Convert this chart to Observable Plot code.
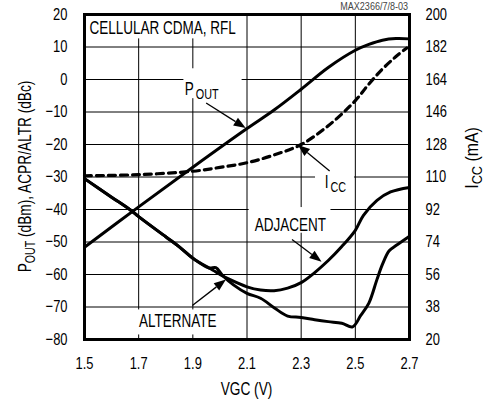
<!DOCTYPE html>
<html><head><meta charset="utf-8">
<script src="https://cdn.jsdelivr.net/npm/d3@7"></script>
<script src="https://cdn.jsdelivr.net/npm/@observablehq/plot@0.6"></script>
<style>
html,body{margin:0;padding:0;background:#fff;}
#chart{width:493px;height:403px;overflow:hidden;}
</style></head><body><div id="chart"></div>
<script>
const FONT = '"Liberation Sans", Arial, sans-serif';
const CONDENSE = 0.76; // Helvetica-Condensed look

// ---- data ----
const xTicks = [1.5, 1.7, 1.9, 2.1, 2.3, 2.5, 2.7];
const yTicks = [-80, -70, -60, -50, -40, -30, -20, -10, 0, 10, 20];
const iccTicks = [20, 38, 56, 74, 92, 110, 128, 146, 164, 182, 200];

const poutX = [1.5, 1.7, 1.9, 2.1, 2.2, 2.3, 2.4, 2.5, 2.55, 2.6, 2.65, 2.7];
const poutY = [-51.6, -39.2, -27, -15.1, -9.4, -3, 3.7, 9.0, 10.8, 12.1, 12.6, 12.5];

const iccX = [1.5, 1.7, 1.9, 2.0, 2.1, 2.2, 2.3, 2.4, 2.5, 2.55, 2.6, 2.65, 2.69];
const iccMA = [110.7, 111.3, 113.2, 115.3, 117.9, 122.2, 128, 138.4, 152.3, 161.5, 169.8, 176.7, 181.5];

const adjX = [1.5, 1.6, 1.672, 1.7, 1.8, 1.85, 1.9, 1.96, 1.985, 2.0, 2.03, 2.1, 2.15, 2.2, 2.25, 2.3, 2.35, 2.4, 2.45, 2.5, 2.53, 2.58, 2.63, 2.7];
const adjY = [-30.5, -36.2, -40.3, -42.2, -48.4, -51.5, -55, -58, -59.2, -60.0, -61.3, -63.8, -64.8, -65, -64.2, -62.5, -59.4, -55.7, -51.4, -46.4, -41.8, -37.2, -34.6, -33.2];

const altX = [1.5, 1.6, 1.672, 1.7, 1.8, 1.85, 1.9, 1.96, 1.985, 2.01, 2.05, 2.1, 2.15, 2.2, 2.25, 2.3, 2.35, 2.4, 2.45, 2.49, 2.52, 2.55, 2.58, 2.6, 2.625, 2.65, 2.7];
const altY = [-30.5, -36.2, -40.3, -42.2, -48.4, -51.5, -55, -58, -57.9, -60.3, -63.2, -65.8, -67.3, -70.2, -72.8, -73.2, -73.9, -74.5, -75.0, -76.1, -72.6, -68.8, -61.5, -56.9, -52.7, -51.1, -48.2];

// annotation layout (data units)
const labelBoxes = [
  {x1: 1.5, x2: 2.09, y1: 12.5, y2: 20},
  {x1: 1.867, x2: 2.082, y1: -5.9, y2: 3.3},
  {x1: 2.353, x2: 2.497, y1: -35.2, y2: -28.4},
  {x1: 2.108, x2: 2.41, y1: -47.3, y2: -39.4},
  {x1: 1.688, x2: 2.002, y1: -78.6, y2: -70.9}
];
const labels = [
  {main: "CELLULAR CDMA, RFL", sub: "", x: 1.52, y: 14, size: 18},
  {main: "P", sub: "OUT", x: 1.872, y: -5.0, size: 18},
  {main: "I", sub: "CC", x: 2.389, y: -33.6, size: 18},
  {main: "ADJACENT", sub: "", x: 2.13, y: -46.7, size: 18},
  {main: "ALTERNATE", sub: "", x: 1.703, y: -76.3, size: 18}
];
const arrows = [
  {x1: 1.951, y1: -7.4, x2: 2.097, y2: -15.1},
  {x1: 2.407, y1: -28.3, x2: 2.29, y2: -20.3},
  {x1: 2.268, y1: -49.4, x2: 2.377, y2: -56.2},
  {x1: 1.9, y1: -69.7, x2: 2.024, y2: -61.7}
];

const toLeft = ma => -80 + (ma - 20) / 1.8;
const pout = poutX.map((x, i) => ({x, y: poutY[i]}));
const icc = iccX.map((x, i) => ({x, y: toLeft(iccMA[i])}));
const adj = adjX.map((x, i) => ({x, y: adjY[i]}));
const alt = altX.map((x, i) => ({x, y: altY[i]}));

const plot = Plot.plot({
  width: 493, height: 403,
  marginLeft: 84, marginRight: 84, marginTop: 14, marginBottom: 64,
  x: {domain: [1.5, 2.7]},
  y: {domain: [-80, 20]},
  style: {fontFamily: FONT, fontSize: "17px", color: "black", background: "white", overflow: "visible"},
  marks: [
    Plot.gridX(xTicks.slice(1, -1), {stroke: "black", strokeOpacity: 1, strokeWidth: 1}),
    Plot.gridY(yTicks.slice(1, -1), {stroke: "black", strokeOpacity: 1, strokeWidth: 1}),
    Plot.rect(labelBoxes, {x1: "x1", x2: "x2", y1: "y1", y2: "y2", fill: "white"}),
    Plot.axisX(xTicks, {tickSize: 0, tickPadding: 17, label: null, tickFormat: d => d.toFixed(1), fontSize: 17}),
    Plot.axisY(yTicks, {tickSize: 0, tickPadding: 17, label: null, fontSize: 17}),
    Plot.axisY(yTicks, {anchor: "right", tickSize: 0, tickPadding: 16, label: null, fontSize: 17,
      tickFormat: d => String(iccTicks[yTicks.indexOf(d)])}),
    Plot.line(icc, {x: "x", y: "y", stroke: "black", strokeWidth: 3.2, strokeDasharray: "7,5", curve: "catmull-rom"}),
    Plot.line(pout, {x: "x", y: "y", stroke: "black", strokeWidth: 3, curve: "catmull-rom"}),
    Plot.line(adj, {x: "x", y: "y", stroke: "black", strokeWidth: 3, curve: "catmull-rom"}),
    Plot.line(alt, {x: "x", y: "y", stroke: "black", strokeWidth: 3, curve: "catmull-rom"}),
    Plot.frame({stroke: "black", strokeWidth: 3})
  ]
});
document.getElementById("chart").append(plot);

const sx = plot.scale("x"), sy = plot.scale("y");
const svg = d3.select(plot);
const g = svg.append("g").attr("font-family", FONT).attr("fill", "black").attr("text-anchor", "start");

function condense(node, c) {
  const w = node.getComputedTextLength();
  if (w > 0) {
    node.setAttribute("textLength", (w * c).toFixed(2));
    node.setAttribute("lengthAdjust", "spacingAndGlyphs");
  }
  node.setAttribute("data-done", "1");
  return w * c;
}

// labels (main text + separate subscript text)
labels.forEach(l => {
  const x = sx.apply(l.x), y = sy.apply(l.y);
  const t = g.append("text").attr("x", x).attr("y", y).attr("font-size", l.size).text(l.main);
  const w = condense(t.node(), 0.75);
  if (l.sub) {
    const s = g.append("text").attr("x", x + w + 2).attr("y", y + 4)
      .attr("font-size", l.size * 0.8).text(l.sub);
    condense(s.node(), 0.75);
  }
});

// arrows
arrows.forEach(a => {
  const x1 = sx.apply(a.x1), y1 = sy.apply(a.y1), x2 = sx.apply(a.x2), y2 = sy.apply(a.y2);
  const ang = Math.atan2(y2 - y1, x2 - x1);
  const L = 12, W = 4.5;
  const bx = x2 - L * Math.cos(ang), by = y2 - L * Math.sin(ang);
  g.append("line").attr("x1", x1).attr("y1", y1).attr("x2", bx).attr("y2", by)
    .attr("stroke", "black").attr("stroke-width", 1.3);
  const px = -Math.sin(ang) * W, py = Math.cos(ang) * W;
  g.append("path").attr("d", `M${x2},${y2}L${bx + px},${by + py}L${bx - px},${by - py}Z`).attr("fill", "black");
});

// axis titles
const xMid = (sx.apply(1.5) + sx.apply(2.7)) / 2;
const yMid = (sy.apply(-80) + sy.apply(20)) / 2;
g.append("text").attr("x", xMid).attr("y", 395).attr("text-anchor", "middle").attr("font-size", 18).text("VGC (V)");

const yl = g.append("text").attr("transform", `translate(31,${yMid}) rotate(-90)`)
  .attr("text-anchor", "middle").attr("font-size", 18);
yl.append("tspan").text("P");
yl.append("tspan").attr("font-size", 14).attr("dy", 3.5).text("OUT");
yl.append("tspan").attr("dy", -3.5).text(" (dBm), ACPR/ALTR (dBc)");

const yr = g.append("text").attr("transform", `translate(478,158) rotate(-90)`)
  .attr("text-anchor", "middle").attr("font-size", 18).attr("data-c", 0.88);
yr.append("tspan").text("I");
yr.append("tspan").attr("font-size", 14.5).attr("dy", 3.5).text("CC");
yr.append("tspan").attr("dy", -3.5).text(" (mA)");

g.append("text").attr("x", sx.apply(2.7) - 1).attr("y", 10).attr("text-anchor", "end")
  .attr("font-size", 11).attr("fill", "#444").attr("data-c", 0.82).text("MAX2366/7/8-03");

// condense every remaining text (Helvetica Condensed look)
svg.selectAll("text").each(function () {
  if (this.hasAttribute("data-done")) return;
  const c = this.hasAttribute("data-c") ? +this.getAttribute("data-c") : CONDENSE;
  condense(this, c);
});
</script>
</body></html>
